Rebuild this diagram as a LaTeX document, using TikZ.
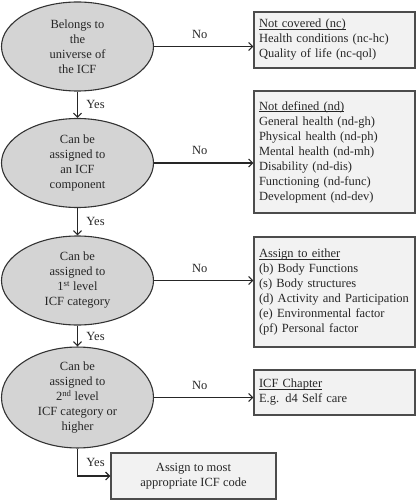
\documentclass[tikz,border=0pt]{standalone}
\usepackage{fontspec}
\setmainfont{Liberation Serif}
\usetikzlibrary{arrows.meta,shapes.geometric}
\newcommand{\myuline}[1]{\setbox0\hbox{#1}\rlap{\vrule width\wd0 height -1.4pt depth 2.0pt}\box0}
\begin{document}
\begin{tikzpicture}[x=1pt,y=-1pt,
  txt/.style={font=\fontsize{12.5}{15}\selectfont, text=black!85},
  decision/.style={ellipse, draw=black!80, fill=black!17, line width=1.1pt, minimum width=152pt, minimum height=89pt, inner sep=0pt, align=center, txt},
  infobox/.style={rectangle, draw=black!70, fill=black!5, line width=1.1pt, minimum width=161pt, text width=151pt, inner xsep=5pt, align=left, txt},
  finalbox/.style={rectangle, draw=black!70, fill=black!5, line width=1.1pt, minimum width=165pt, minimum height=46pt, align=center, txt},
  flow/.style={draw=black!85, line width=1.2pt, -{Straight Barb[length=4pt,width=8pt]}},
  lbl/.style={txt}
]
\useasboundingbox (0,0) rectangle (416,500);

\node[decision] (e1) at (77.5,46.5) {Belongs to\\the\\universe of\\the ICF};
\node[decision] (e2) at (77.5,163) {Can be\\assigned to\\an ICF\\component};
\node[decision] (e3) at (77.5,280.5) {Can be\\assigned to\\1\textsuperscript{st} level\\ICF category};
\node[decision] (e4) at (77.5,397.5) {Can be\\assigned to\\2\textsuperscript{nd} level\\ICF category or\\higher};

\node[infobox, minimum height=56pt] (b1) at (334.5,40) {\myuline{Not covered (nc)}\\Health conditions (nc-hc)\\Quality of life (nc-qol)};
\node[infobox, minimum height=122pt] (b2) at (334.5,152) {\myuline{Not defined (nd)}\\General health (nd-gh)\\Physical health (nd-ph)\\Mental health (nd-mh)\\Disability (nd-dis)\\Functioning (nd-func)\\Development (nd-dev)};
\node[infobox, minimum height=110pt] (b3) at (334.5,292) {\myuline{Assign to either}\\(b) Body Functions\\(s) Body structures\\(d) Activity and Participation\\(e) Environmental factor\\(pf) Personal factor};
\node[infobox, minimum height=45pt] (b4) at (334.5,392.5) {\myuline{ICF Chapter}\\E.g. d4 Self care};
\node[finalbox] (b5) at (193.5,476) {Assign to most\\appropriate ICF code};

\draw[flow] (e1.east) -- node[lbl, above=4pt, pos=0.46]{No} (e1.east -| b1.west);
\draw[flow] (e2.east) -- node[lbl, above=4pt, pos=0.46]{No} (e2.east -| b2.west);
\draw[flow] (e3.east) -- node[lbl, above=4pt, pos=0.46]{No} (e3.east -| b3.west);
\draw[flow] (e4.east) -- node[lbl, above=4pt, pos=0.46]{No} (e4.east -| b4.west);

\draw[flow] (e1.south) -- node[lbl, right=5pt]{Yes} (e2.north);
\draw[flow] (e2.south) -- node[lbl, right=5pt]{Yes} (e3.north);
\draw[flow] (e3.south) -- node[lbl, right=5pt]{Yes} (e4.north);
\draw[flow] (e4.south) |- node[lbl, pos=0.25, right=5pt]{Yes} (b5.west);
\end{tikzpicture}
\end{document}
